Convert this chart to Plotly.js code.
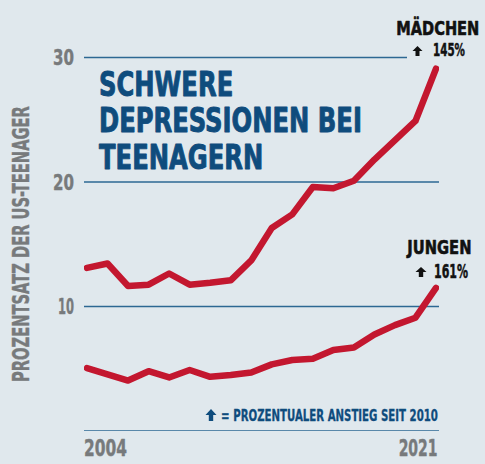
<!DOCTYPE html>
<html><head><meta charset="utf-8">
<script src="https://cdn.plot.ly/plotly-3.0.1.min.js"></script>
<style>
html,body{margin:0;padding:0;background:#e0e8ed}
#chart{width:485px;height:464px}
.scatterlayer path.js-line{stroke-linecap:round;stroke-linejoin:round}
</style></head><body><div id="chart"></div>
<script>
const years = [2004,2005,2006,2007,2008,2009,2010,2011,2012,2013,2014,2015,2016,2017,2018,2019,2020,2021];
const girls = [13.1,13.45,11.65,11.75,12.65,11.75,11.9,12.1,13.7,16.3,17.4,19.6,19.5,20.1,21.8,23.4,24.9,29.1];
const boys  = [5.05,4.5,4.05,4.8,4.3,4.9,4.35,4.5,4.7,5.35,5.7,5.8,6.5,6.7,7.75,8.5,9.1,11.5];
const yTicks = [10,20,30];
const yTickLabels = ['10','20','30'];
const xLabels = ['2004','2021'];
const titleLines = ['SCHWERE','DEPRESSIONEN BEI','TEENAGERN'];
const seriesNames = ['MÄDCHEN','JUNGEN'];
const increases = ['145%','161%'];
const noteText = '= PROZENTUALER ANSTIEG SEIT 2010';
const yTitle = 'PROZENTSATZ DER US-TEENAGER';

const W=485,H=464, L=84, R=439, T=45, B=431;
const px = x => (x-L)/(R-L);
const py = y => (B-y)/(B-T);
const COND = "'DejaVu Sans Condensed','DejaVu Sans',sans-serif";
const BLUE = '#0f4c7d', GRID='#2d6893', GRAY='#777a7c', RED='#c3172f', BLACK='#111111';

const traces = [
  {x:years,y:girls,mode:'lines',line:{color:RED,width:6.5},hoverinfo:'skip'},
  {x:years,y:boys,mode:'lines',line:{color:RED,width:6.5},hoverinfo:'skip'}
];

const annFit = [];   // [target width, stroke]
const annotations = [];
function ann(text,x,y,xa,ya,size,color,width,stroke,extra){
  annFit.push([width,stroke]);
  annotations.push(Object.assign({text:text,xref:'paper',yref:'paper',x:px(x),y:py(y),xanchor:xa,yanchor:ya,
    align:xa==='center'?'center':xa,showarrow:false,font:{family:COND,size:size,color:color,weight:'bold'}},extra||{}));
}
ann(titleLines.join('<br>'),97,62,'left','top',34,BLUE,263,0.9);
ann(seriesNames[0],481,27.5,'right','middle',19,BLACK,83,0.6);
ann(increases[0],431,49.5,'left','middle',18,BLACK,32,0.5);
ann(seriesNames[1],473,246.5,'right','middle',20,BLACK,65,0.6);
ann(increases[1],432,271,'left','middle',19,BLACK,34,0.5);
ann(noteText,440,415,'right','middle',16.5,BLUE,217,0.3);
ann(xLabels[0],82,447.5,'left','middle',23,GRAY,43,0.4);
ann(xLabels[1],440,447.5,'right','middle',23,GRAY,39,0.4);
ann(yTitle,21.5,244,'center','middle',23,GRAY,276,0.4,{textangle:-90});

function arrowPath(cx,top,bottom,w){
  const hh=(bottom-top)*0.5, sw=w*0.2;
  const pts=[[cx,top],[cx+w/2,top+hh],[cx+sw,top+hh],[cx+sw,bottom],[cx-sw,bottom],[cx-sw,top+hh],[cx-w/2,top+hh]];
  return 'M'+pts.map(p=>px(p[0]).toFixed(5)+','+py(p[1]).toFixed(5)).join(' L')+' Z';
}
const shapes = [0,10,20].map(v=>({type:'line',xref:'paper',yref:'y',x0:0,x1:1,y0:v,y1:v,
  line:{color:GRID,width:1.5},layer:'below'}));
shapes.push({type:'line',xref:'paper',yref:'y',x0:0,x1:px(407),y0:30,y1:30,line:{color:GRID,width:1.5},layer:'below'});
[[417.5,46,56,10,BLACK],[421,267,277,11,BLACK],[211,409,421,11,BLUE]].forEach(a=>{
  shapes.push({type:'path',xref:'paper',yref:'paper',path:arrowPath(a[0],a[1],a[2],a[3]),
    fillcolor:a[4],line:{width:0},layer:'above'});
});

const layout = {
  width:W,height:H,margin:{l:L,r:W-R,t:T,b:H-B},
  paper_bgcolor:'#e0e8ed',plot_bgcolor:'rgba(0,0,0,0)',showlegend:false,
  xaxis:{range:[2003.854,2021.146],showgrid:false,zeroline:false,showticklabels:false,ticks:'',showline:false},
  yaxis:{range:[0,31.0],tickvals:yTicks,ticktext:yTickLabels,showgrid:false,zeroline:false,ticks:'',
    ticklabelstandoff:9,tickfont:{family:COND,size:22,color:GRAY,weight:'bold'},showline:false},
  annotations:annotations,shapes:shapes
};

function squeeze(t,target,stroke){
  const bb=t.getBBox();
  if(!bb.width) return;
  const anc=t.getAttribute('text-anchor')||'start';
  const ax = anc==='end'?bb.x+bb.width:(anc==='middle'?bb.x+bb.width/2:bb.x);
  const s=target/bb.width;
  const prev=t.getAttribute('transform')||'';
  t.setAttribute('transform',prev+' translate('+ax+',0) scale('+s+',1) translate('+(-ax)+',0)');
  if(stroke){t.style.stroke=t.style.fill;t.style.strokeWidth=stroke+'px';t.style.strokeLinejoin='round';}
}
Plotly.newPlot('chart',traces,layout,{displayModeBar:false,staticPlot:true}).then(gd=>{
  gd.querySelectorAll('g.annotation').forEach(g=>{
    const i=+g.getAttribute('data-index');
    const t=g.querySelector('text.annotation-text');
    if(!t) return;
    if(i===0){
      t.querySelectorAll('tspan.line').forEach((sp,k)=>{ sp.setAttribute('dy',(k*36.5)+'px'); });
    }
    squeeze(t,annFit[i][0],annFit[i][1]);
  });
  gd.querySelectorAll('.ytick text').forEach(t=>{
    squeeze(t,t.textContent.trim()==='10'?16:21,0.4);
  });
});
</script></body></html>
